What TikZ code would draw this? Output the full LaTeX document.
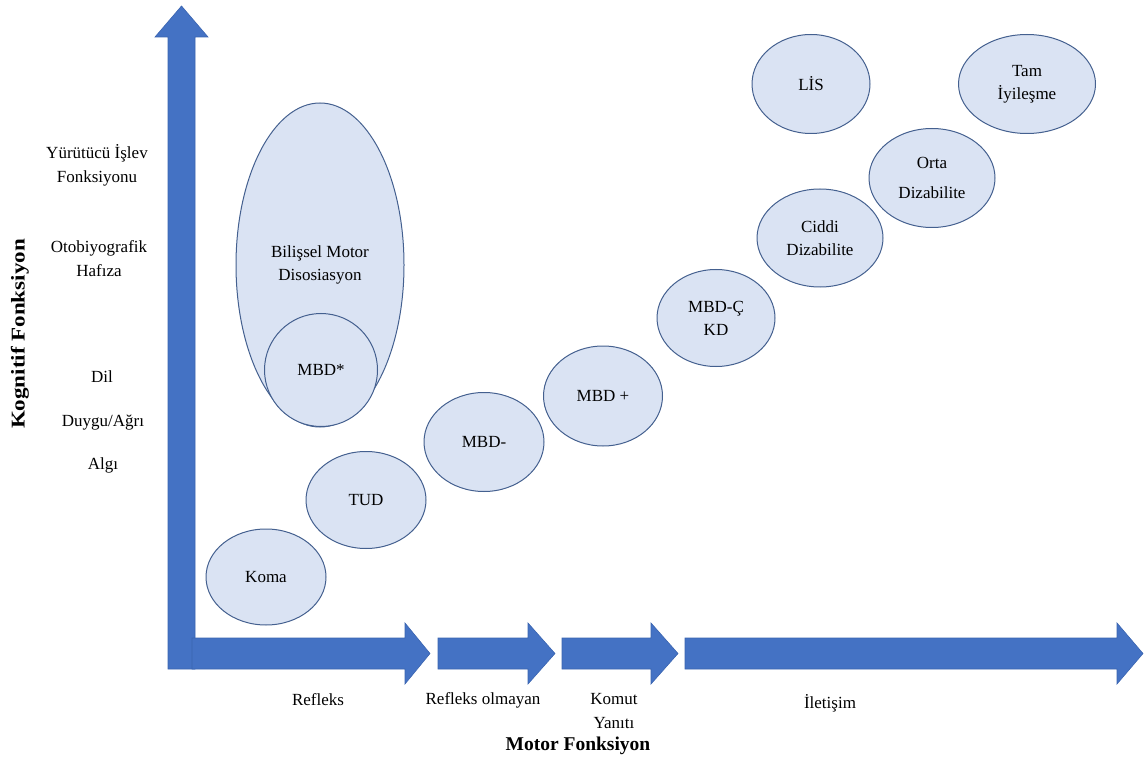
\documentclass[tikz,border=0pt]{standalone}
\usepackage{fontspec}
\setmainfont{Liberation Serif}
\usetikzlibrary{shapes.geometric}
\definecolor{arrowblue}{HTML}{4472C4}
\definecolor{arrowedge}{HTML}{3A64B0}
\definecolor{ellfill}{HTML}{DAE3F3}
\definecolor{elledge}{HTML}{44608F}
\begin{document}
\begin{tikzpicture}[x=1pt,y=-1pt,
  stage/.style={ellipse, draw=elledge, line width=1pt, fill=ellfill, inner sep=0pt,
    font=\fontsize{17}{23}\selectfont, align=center},
  lbl/.style={font=\fontsize{17}{24}\selectfont, align=center, inner sep=0pt},
  axistitle/.style={font=\fontsize{19.5}{23}\selectfont\bfseries, inner sep=0pt},
  bigarrow/.style={fill=arrowblue, draw=arrowedge, line width=0.6pt, line join=miter}]
\useasboundingbox (0,0) rectangle (1148,767);
% axes arrows
\draw[bigarrow] (168,669) -- (168,37) -- (155,37) -- (181.5,6) -- (208,37) -- (195,37) -- (195,669) -- cycle;
\draw[bigarrow] (192,638) -- (405,638) -- (405,623) -- (430,653.5) -- (405,684) -- (405,669) -- (192,669) -- cycle;
\draw[bigarrow] (438,638) -- (528,638) -- (528,623) -- (555,653.5) -- (528,684) -- (528,669) -- (438,669) -- cycle;
\draw[bigarrow] (562,638) -- (651,638) -- (651,623) -- (678,653.5) -- (651,684) -- (651,669) -- (562,669) -- cycle;
\draw[bigarrow] (685,638) -- (1117,638) -- (1117,623) -- (1143,653.5) -- (1117,684) -- (1117,669) -- (685,669) -- cycle;
% stages
\node[stage, minimum width=168, minimum height=324] (bmd) at (320,265) {Bilişsel Motor\\Disosiasyon};
\node[stage, minimum width=113, minimum height=113] (mbdstar) at (321,370) {MBD*};
\node[stage, minimum width=120, minimum height=96] (koma) at (266,577) {Koma};
\node[stage, minimum width=120, minimum height=97] (tud) at (366,500) {TUD};
\node[stage, minimum width=120, minimum height=99] (mbdm) at (484,442) {MBD-};
\node[stage, minimum width=119, minimum height=100] (mbdp) at (603,396) {MBD +};
\node[stage, minimum width=118, minimum height=97] (mbdc) at (716,318) {MBD-Ç\\KD};
\node[stage, minimum width=126, minimum height=98] (ciddi) at (820,238) {Ciddi\\Dizabilite};
\node[stage, minimum width=126, minimum height=99] (orta) at (932,178) {Orta\\[7pt]Dizabilite};
\node[stage, minimum width=118, minimum height=99] (lis) at (811,84) {LİS};
\node[stage, minimum width=137, minimum height=99] (tam) at (1027,84) {Tam\\İyileşme};
% y-axis labels
\node[axistitle, rotate=90, xscale=1.18] (ky) at (20,334) {Kognitif Fonksiyon};
\node[lbl] (yif) at (97,165) {Yürütücü İşlev\\Fonksiyonu};
\node[lbl] (oh) at (99,259) {Otobiyografik\\Hafıza};
\node[lbl] (dil) at (102,377) {Dil};
\node[lbl] (dag) at (103,423) {Duygu/Ağrı};
\node[lbl] (alg) at (103,465) {Algı};
% x-axis labels
\node[lbl] (ref) at (318,700) {Refleks};
\node[lbl] (refo) at (483,700) {Refleks olmayan};
\node[lbl] (kom) at (614,711) {Komut\\Yanıtı};
\node[lbl] (ilet) at (830,703) {İletişim};
\node[axistitle] (mf) at (578,746) {Motor Fonksiyon};
\end{tikzpicture}
\end{document}
